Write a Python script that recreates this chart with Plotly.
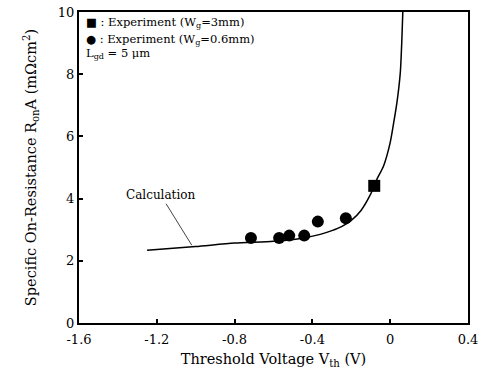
import plotly.graph_objects as go

# Calculation curve
calc_v = [-1.25, -1.0, -0.8, -0.6, -0.46, -0.36, -0.3, -0.25, -0.2, -0.15, -0.1, -0.07, -0.034, 0.0, 0.017, 0.035, 0.052, 0.06, 0.066]
calc_r = [2.34, 2.46, 2.57, 2.63, 2.72, 2.85, 2.97, 3.1, 3.3, 3.62, 4.15, 4.6, 5.05, 5.8, 6.4, 7.1, 8.05, 9.1, 10.2]

# Experiment Wg = 0.6 mm (circles)
exp06_v = [-0.716, -0.571, -0.519, -0.442, -0.372, -0.228]
exp06_r = [2.73, 2.73, 2.81, 2.81, 3.26, 3.37]

# Experiment Wg = 3 mm (square)
exp3_v = [-0.082]
exp3_r = [4.41]

xticks = [-1.6, -1.2, -0.8, -0.4, 0, 0.4]
xticklabels = ["-1.6", "-1.2", "-0.8", "-0.4", "0", "0.4"]
yticks = [0, 2, 4, 6, 8, 10]

FONT = "DejaVu Serif"

fig = go.Figure()
fig.add_trace(go.Scatter(x=calc_v, y=calc_r, mode="lines",
                         line=dict(color="black", width=1.5, shape="spline", smoothing=0.7),
                         showlegend=False))
fig.add_trace(go.Scatter(x=exp06_v, y=exp06_r, mode="markers",
                         marker=dict(symbol="circle", size=12, color="black"), showlegend=False))
fig.add_trace(go.Scatter(x=exp3_v, y=exp3_r, mode="markers",
                         marker=dict(symbol="square", size=12, color="black"), showlegend=False))

fig.update_layout(
    width=487, height=378,
    margin=dict(l=79, r=19, t=5, b=55),
    plot_bgcolor="white", paper_bgcolor="white",
    font=dict(family=FONT, size=13, color="black"),
    xaxis=dict(range=[-1.6, 0.4001], tickvals=xticks, ticktext=xticklabels,
               showgrid=False, zeroline=False, showline=True, linecolor="black", linewidth=2,
               mirror=True, ticks="inside", ticklen=4, tickwidth=1.5, tickcolor="black",
               ticklabeloverflow="allow", ticklabelstandoff=3,
               title=dict(text="Threshold Voltage V<sub>th</sub> (V)", font=dict(size=14.5, family=FONT), standoff=8),
               tickfont=dict(size=13, family=FONT)),
    yaxis=dict(range=[0, 10.001], tickvals=yticks,
               showgrid=False, zeroline=False, showline=True, linecolor="black", linewidth=2,
               mirror=True, ticks="inside", ticklen=4, tickwidth=1.5, tickcolor="black",
               ticklabeloverflow="allow",
               title=dict(text="Specific On-Resistance R<sub>on</sub>A (mΩcm<sup>2</sup>)", font=dict(size=14.5, family=FONT), standoff=18),
               tickfont=dict(size=13, family=FONT)),
)

fig.add_annotation(text="■ : Experiment (W<sub>g</sub>=3mm)", xref="paper", yref="paper",
                   x=0.012, y=0.965, xanchor="left", yanchor="middle", showarrow=False,
                   font=dict(size=11.5, family=FONT))
fig.add_annotation(text="● : Experiment (W<sub>g</sub>=0.6mm)", xref="paper", yref="paper",
                   x=0.012, y=0.912, xanchor="left", yanchor="middle", showarrow=False,
                   font=dict(size=11.5, family=FONT))
fig.add_annotation(text="L<sub>gd</sub> = 5 μm", xref="paper", yref="paper",
                   x=0.012, y=0.866, xanchor="left", yanchor="middle", showarrow=False,
                   font=dict(size=11.5, family=FONT))
fig.add_annotation(text="Calculation", x=-1.02, y=2.5, ax=-31, ay=-50,
                   showarrow=True, arrowhead=0, arrowwidth=1, arrowcolor="#444",
                   font=dict(size=12, family=FONT))

fig.write_html("out.html")
